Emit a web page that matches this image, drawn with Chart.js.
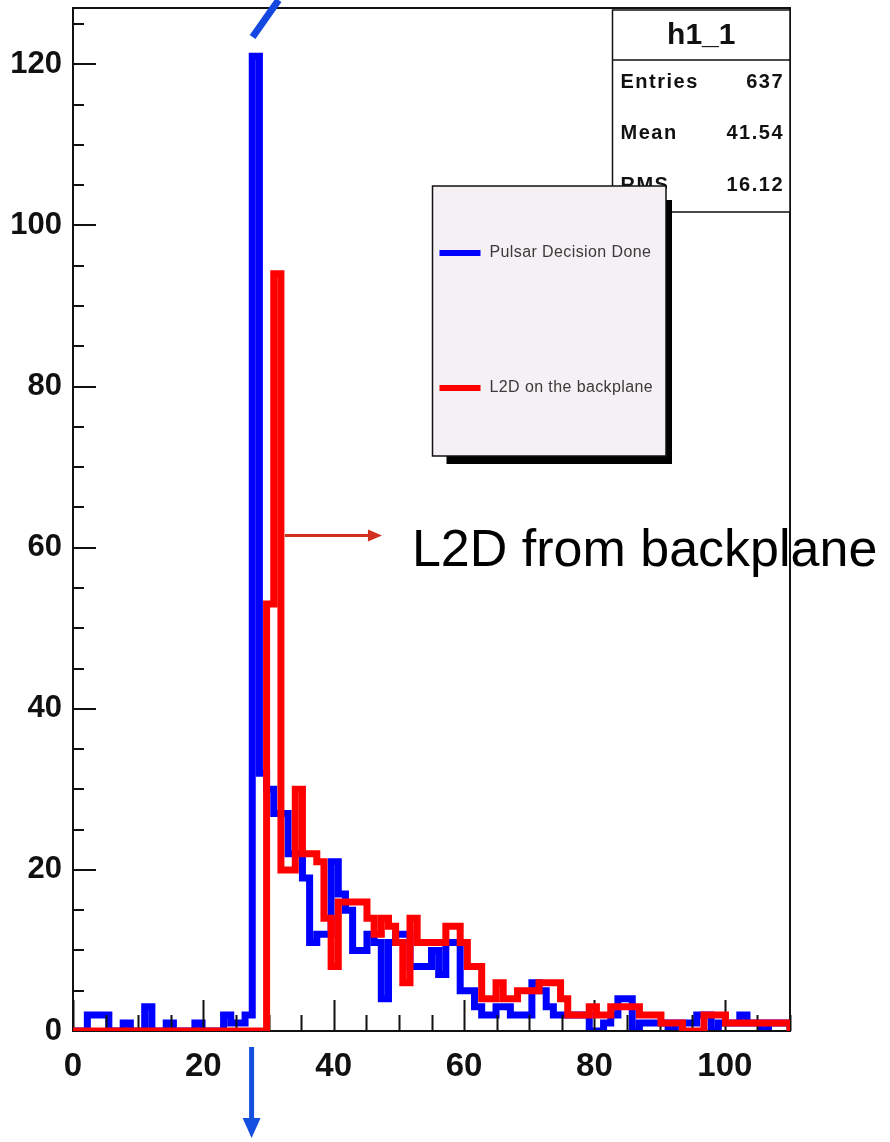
<!DOCTYPE html>
<html>
<head>
<meta charset="utf-8">
<script src="https://cdn.jsdelivr.net/npm/chart.js@4.4.1/dist/chart.umd.min.js"></script>
<style>
  html, body { margin: 0; padding: 0; background: #fff; }
  canvas { display: block; }
</style>
</head>
<body>
<canvas id="hist" width="890" height="1142"></canvas>
<script>
// histogram binning
const xMin = 0;
const xMax = 110;
const nBins = 100;
const yMax = 127;

// bin contents
const pulsarDecisionDone = [
  0, 0, 2, 2, 2, 0, 0, 1, 0, 0,
  3, 0, 0, 1, 0, 0, 0, 1, 0, 0,
  0, 2, 1, 1, 2, 121, 32, 30, 27, 27,
  22, 22, 19, 11, 12, 12, 21, 17, 15, 10,
  10, 12, 11, 4, 11, 12, 12, 8, 8, 8,
  10, 7, 11, 11, 5, 5, 3, 2, 2, 3,
  3, 2, 2, 2, 6, 5, 3, 2, 2, 2,
  2, 2, 0, 0, 1, 2, 4, 4, 0, 1,
  1, 1, 1, 0, 1, 1, 1, 2, 2, 0,
  1, 1, 1, 2, 1, 1, 0, 1, 1, 1
];
const l2dOnBackplane = [
  0, 0, 0, 0, 0, 0, 0, 0, 0, 0,
  0, 0, 0, 0, 0, 0, 0, 0, 0, 0,
  0, 0, 0, 0, 0, 0, 0, 53, 94, 20,
  20, 30, 22, 22, 21, 14, 8, 16, 16, 16,
  16, 14, 12, 14, 13, 11, 6, 14, 11, 11,
  11, 11, 13, 13, 11, 8, 8, 4, 4, 6,
  4, 4, 5, 5, 5, 6, 6, 6, 4, 2,
  2, 2, 3, 2, 2, 3, 3, 3, 3, 2,
  2, 2, 1, 1, 1, 0, 0, 0, 2, 2,
  2, 1, 1, 1, 1, 1, 1, 1, 1, 1
];

const xTickLabels = [0, 20, 40, 60, 80, 100];
const yTickLabels = [0, 20, 40, 60, 80, 100, 120];
const legendLabels = ['Pulsar Decision Done', 'L2D on the backplane'];
const statsTitle = 'h1_1';
const statsRows = [['Entries', '637'], ['Mean', '41.54'], ['RMS', '16.12']];
const calloutText = 'L2D from backplane';

const FONT = "'Liberation Sans', Arial, Helvetica, sans-serif";

// turn bin contents into step points (left edge of every bin, then close at xMax)
function toSteps(values) {
  const w = (xMax - xMin) / nBins;
  const pts = values.map((v, i) => ({ x: xMin + i * w, y: v }));
  pts.push({ x: xMax, y: values[values.length - 1] });
  pts.push({ x: xMax, y: 0 });
  return pts;
}

function arrow(ctx, x1, y1, x2, y2, color, width, head, halfW) {
  const ang = Math.atan2(y2 - y1, x2 - x1);
  const bx = x2 - head * Math.cos(ang), by = y2 - head * Math.sin(ang);
  ctx.strokeStyle = color;
  ctx.fillStyle = color;
  ctx.lineWidth = width;
  ctx.beginPath();
  ctx.moveTo(x1, y1);
  ctx.lineTo(bx, by);
  ctx.stroke();
  ctx.beginPath();
  ctx.moveTo(x2, y2);
  ctx.lineTo(bx + halfW * Math.sin(ang), by - halfW * Math.cos(ang));
  ctx.lineTo(bx - halfW * Math.sin(ang), by + halfW * Math.cos(ang));
  ctx.closePath();
  ctx.fill();
}

// frame + inside ticks, painted after the first histogram like ROOT does
const rootAxes = {
  id: 'rootAxes',
  afterDatasetDraw(chart, args) {
    if (args.index !== 1) return;
    const { ctx, chartArea: a, scales: { x, y } } = chart;
    ctx.save();
    ctx.strokeStyle = '#111';
    ctx.lineWidth = 2;
    ctx.strokeRect(a.left, a.top, a.right - a.left, a.bottom - a.top);
    ctx.beginPath();
    x.ticks.forEach(t => {
      const px = Math.round(x.getPixelForValue(t.value)) + 0.5;
      const len = xTickLabels.includes(t.value) ? 31 : 16;
      ctx.moveTo(px, a.bottom);
      ctx.lineTo(px, a.bottom - len);
    });
    y.ticks.forEach(t => {
      const py = Math.round(y.getPixelForValue(t.value));
      const len = yTickLabels.includes(t.value) ? 23 : 11;
      ctx.moveTo(a.left, py);
      ctx.lineTo(a.left + len, py);
    });
    ctx.stroke();
    ctx.restore();
  },
  afterDraw(chart) {
    const { ctx, chartArea: a, scales: { x, y } } = chart;
    ctx.save();

    // stats box
    const sx = 612.5, sy = a.top + 2, sw = a.right - sx, sh = 202;
    ctx.fillStyle = '#fff';
    ctx.fillRect(sx, sy, sw, sh);
    ctx.strokeStyle = '#111';
    ctx.lineWidth = 1.5;
    ctx.strokeRect(sx, sy, sw, sh);
    ctx.beginPath();
    ctx.moveTo(sx, sy + 50);
    ctx.lineTo(sx + sw, sy + 50);
    ctx.stroke();
    ctx.fillStyle = '#111';
    ctx.textBaseline = 'middle';
    ctx.font = 'bold 30px ' + FONT;
    ctx.textAlign = 'center';
    ctx.fillText(statsTitle, sx + sw / 2, sy + 26);
    ctx.font = 'bold 20px ' + FONT;
    ctx.letterSpacing = '1.5px';
    statsRows.forEach((r, i) => {
      const ty = sy + 72 + i * 51.5;
      ctx.textAlign = 'left';
      ctx.fillText(r[0], sx + 8, ty);
      ctx.textAlign = 'right';
      ctx.fillText(r[1], sx + sw - 6, ty);
    });
    ctx.letterSpacing = '0px';

    // legend box with shadow
    const lx = 432.5, ly = 186, lw = 233.5, lh = 270;
    ctx.fillStyle = '#000';
    ctx.fillRect(lx + 14, ly + 14, lw - 8, lh - 6);
    ctx.fillStyle = '#f4f0f4';
    ctx.fillRect(lx, ly, lw, lh);
    ctx.strokeStyle = '#111';
    ctx.lineWidth = 1.5;
    ctx.strokeRect(lx, ly, lw, lh);
    const entries = [[legendLabels[0], '#0000ff', ly + 67], [legendLabels[1], '#ff0000', ly + 202]];
    ctx.font = '16px ' + FONT;
    ctx.letterSpacing = '0.4px';
    ctx.textAlign = 'left';
    ctx.textBaseline = 'middle';
    entries.forEach(([label, color, ey]) => {
      ctx.strokeStyle = color;
      ctx.lineWidth = 6;
      ctx.beginPath();
      ctx.moveTo(lx + 7, ey);
      ctx.lineTo(lx + 48, ey);
      ctx.stroke();
      ctx.fillStyle = '#3a3a3a';
      ctx.fillText(label, lx + 57, ey);
    });
    ctx.letterSpacing = '0px';

    // callout for the red histogram
    const ay = y.getPixelForValue(61.5);
    arrow(ctx, x.getPixelForValue(32.5), ay, x.getPixelForValue(47.4), ay, '#d2301e', 3, 14, 6);
    ctx.fillStyle = '#000';
    ctx.font = '52px ' + FONT;
    ctx.textAlign = 'left';
    ctx.textBaseline = 'alphabetic';
    ctx.fillText(calloutText, x.getPixelForValue(52), y.getPixelForValue(57.7));

    // blue markers at the blue peak
    const bx = x.getPixelForValue(27.4);
    ctx.strokeStyle = '#1448e0';
    ctx.lineWidth = 7;
    ctx.beginPath();
    ctx.moveTo(bx + 1, 37);
    ctx.lineTo(bx + 27, 0);
    ctx.stroke();
    arrow(ctx, bx, a.bottom + 16, bx, a.bottom + 107, '#1450e0', 5, 20, 9);

    ctx.restore();
  }
};

new Chart(document.getElementById('hist'), {
  type: 'line',
  data: {
    datasets: [
      {
        label: legendLabels[1],
        data: toSteps(l2dOnBackplane),
        borderColor: '#ff0000',
        borderWidth: 7,
        stepped: 'before',
        pointRadius: 0,
        fill: false,
        borderJoinStyle: 'miter',
        borderCapStyle: 'butt'
      },
      {
        label: legendLabels[0],
        data: toSteps(pulsarDecisionDone),
        borderColor: '#0000ff',
        borderWidth: 7,
        stepped: 'before',
        pointRadius: 0,
        fill: false,
        borderJoinStyle: 'miter',
        borderCapStyle: 'butt'
      }
    ]
  },
  options: {
    responsive: false,
    animation: false,
    devicePixelRatio: 1,
    layout: { padding: { left: 0, top: 8, right: 100, bottom: 0 } },
    plugins: { legend: { display: false }, tooltip: { enabled: false } },
    scales: {
      x: {
        type: 'linear',
        min: xMin,
        max: xMax,
        grid: { display: false, drawTicks: false },
        border: { display: false },
        ticks: {
          stepSize: 5,
          includeBounds: false,
          autoSkip: false,
          maxRotation: 0,
          padding: 16,
          color: '#111',
          font: { family: FONT, size: 33, weight: 'bold' },
          callback: v => xTickLabels.includes(v) ? String(v) : ''
        },
        afterFit: s => { s.height = 111; s.paddingLeft = 0; s.paddingRight = 0; }
      },
      y: {
        min: 0,
        max: yMax,
        grid: { display: false, drawTicks: false },
        border: { display: false },
        ticks: {
          stepSize: 5,
          includeBounds: false,
          autoSkip: false,
          padding: 11,
          color: '#111',
          font: { family: FONT, size: 31, weight: 'bold' },
          callback: v => yTickLabels.includes(v) ? String(v) : ''
        },
        afterFit: s => { s.width = 73; s.paddingTop = 0; s.paddingBottom = 0; }
      }
    }
  },
  plugins: [rootAxes]
});
</script>
</body>
</html>
